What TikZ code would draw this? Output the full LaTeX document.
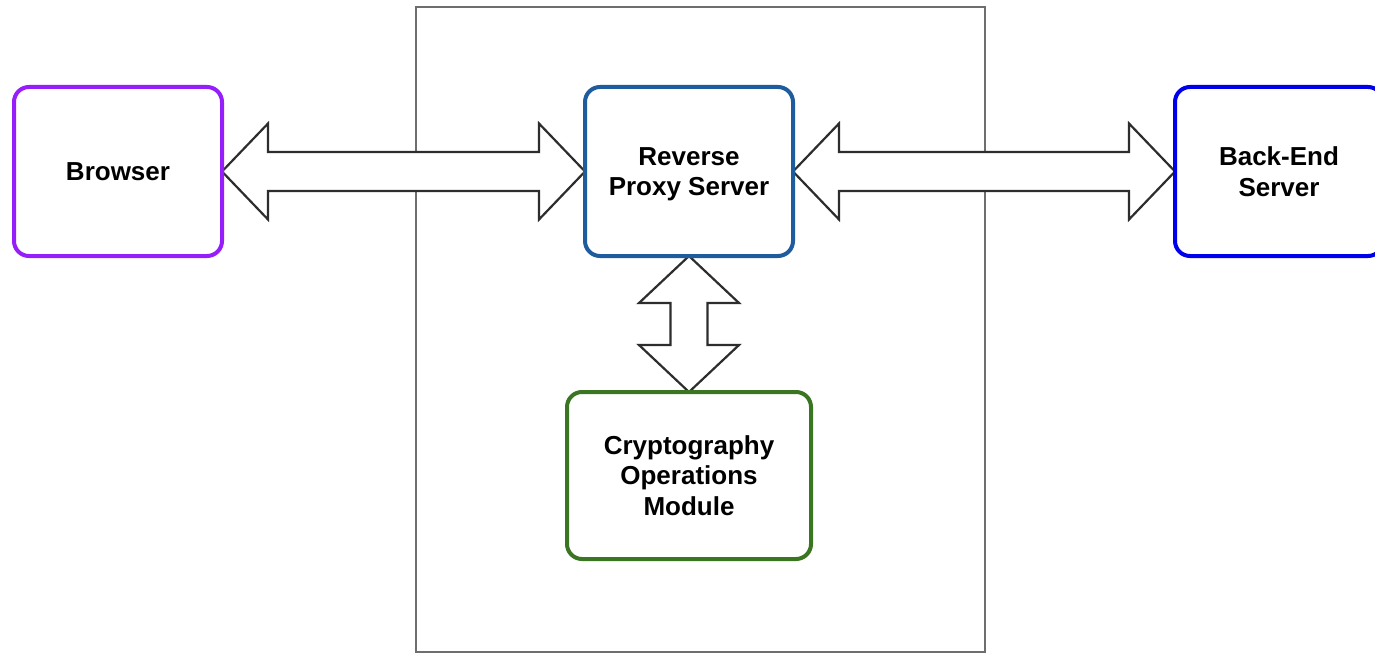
\documentclass[tikz,border=0pt]{standalone}
\usepackage{fontspec}
\setmainfont{Liberation Sans}
\usetikzlibrary{calc,backgrounds}

\definecolor{browserpurple}{RGB}{150,30,250}
\definecolor{proxyblue}{RGB}{30,92,158}
\definecolor{backendblue}{RGB}{0,0,235}
\definecolor{cryptogreen}{RGB}{58,118,34}
\definecolor{framegray}{RGB}{110,110,110}
\definecolor{arrowgray}{RGB}{45,45,45}

\tikzset{
  box/.style={draw=#1, line width=4pt, rounded corners=15pt, fill=white,
    align=center, inner sep=0pt, outer sep=0pt,
    font=\fontsize{26}{30.5}\selectfont\bfseries},
  % hollow double-headed block arrow: #1 head length, #2 head half-width, #3 shaft half-width
  fat/.style n args={3}{draw=arrowgray, line width=2.2pt, fill=white,
    line join=miter, miter limit=10,
    to path={
      -- ($(\tikztostart)!#1!(\tikztotarget)!#2!90:(\tikztotarget)$)
      -- ($(\tikztostart)!#1!(\tikztotarget)!#3!90:(\tikztotarget)$)
      -- ($(\tikztotarget)!#1!(\tikztostart)!#3!-90:(\tikztostart)$)
      -- ($(\tikztotarget)!#1!(\tikztostart)!#2!-90:(\tikztostart)$)
      -- (\tikztotarget)
      -- ($(\tikztotarget)!#1!(\tikztostart)!#2!90:(\tikztostart)$)
      -- ($(\tikztotarget)!#1!(\tikztostart)!#3!90:(\tikztostart)$)
      -- ($(\tikztostart)!#1!(\tikztotarget)!#3!-90:(\tikztotarget)$)
      -- ($(\tikztostart)!#1!(\tikztotarget)!#2!-90:(\tikztotarget)$)
      -- cycle}},
  frame/.style={draw=framegray, line width=2.5pt}
}

\begin{document}
\begin{tikzpicture}[x=1pt, y=-1pt]
  \clip (0,0) rectangle (1375,655);

  % components
  \node[box=browserpurple, minimum width=208pt, minimum height=169pt] (browser) at (118,171.5) {Browser};
  \node[box=proxyblue, minimum width=208pt, minimum height=169pt] (proxy) at (689,171.5) {Reverse\\\smash{Proxy Server}};
  \node[box=backendblue, minimum width=208pt, minimum height=169pt] (backend) at (1279,171.5) {Back-End\\Server};
  \node[box=cryptogreen, minimum width=244pt, minimum height=167pt] (crypto) at (689,475.5) {Cryptography\\Operations\\Module};

  \begin{pgfonlayer}{background}
    \fill[white] (0,0) rectangle (1375,655);
    % server boundary
    \coordinate (frameNW) at (416,7);
    \coordinate (frameSE) at (985,652);
    \draw[frame] (frameNW) rectangle (frameSE);
    % data flows
    \draw[fat={46pt}{48pt}{19.5pt}] (browser.east) to (proxy.west);
    \draw[fat={46pt}{48pt}{19.5pt}] (proxy.east) to (backend.west);
    \draw[fat={47pt}{50pt}{18.5pt}] (proxy.south) to (crypto.north);
  \end{pgfonlayer}
\end{tikzpicture}
\end{document}
